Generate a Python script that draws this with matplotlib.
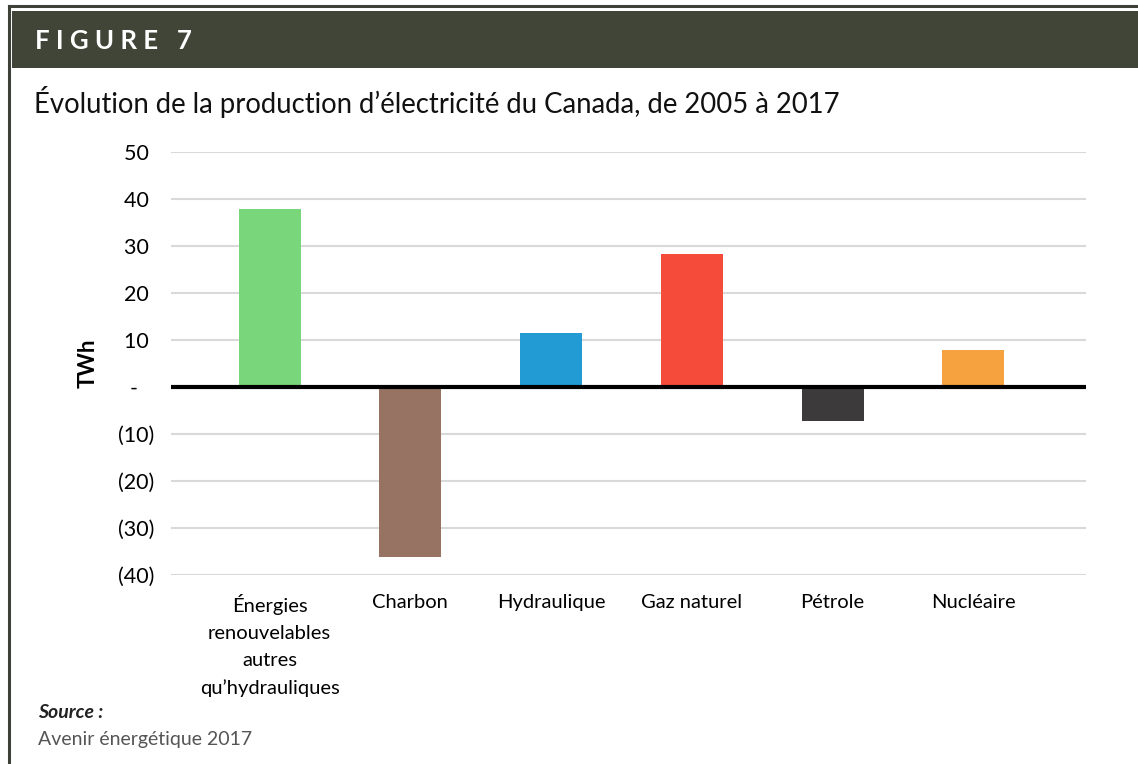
import matplotlib
matplotlib.use("Agg")
import matplotlib.pyplot as plt
from matplotlib.patches import Rectangle
from matplotlib.lines import Line2D

plt.rcParams['font.family'] = ['Lato', 'DejaVu Sans']

categories = ["Énergies\nrenouvelables\nautres\nqu’hydrauliques", "Charbon", "Hydraulique",
              "Gaz naturel", "Pétrole", "Nucléaire"]
values = [37.8, -36.2, 11.5, 28.4, -7.3, 7.9]
colors = ["#7ad67a", "#977363", "#229bd5", "#f44b3a", "#3c3a3b", "#f6a23f"]
yticks = [-40, -30, -20, -10, 0, 10, 20, 30, 40, 50]
ytick_labels = ["(40)", "(30)", "(20)", "(10)", "-   ", "10 ", "20 ", "30 ", "40 ", "50 "]

fig = plt.figure(figsize=(11.38, 7.64), dpi=100)

# frame and header band
W, H = 1138, 764
def px(x, y, w, h):
    return (x / W, 1 - (y + h) / H), w / W, h / H

fig.add_artist(Line2D([9 / W, 9 / W], [0, 1 - 6 / H], color="#3d4137", lw=2.2))
fig.add_artist(Line2D([9 / W, 1], [1 - 6 / H, 1 - 6 / H], color="#3d4137", lw=2.2))
xy, w, h = px(12, 11, 1126, 57)
fig.add_artist(Rectangle(xy, w, h, color="#404538", lw=0))
fig.text(35 / W, 1 - 41 / H, "F I G U R E   7", color="white", fontsize=18.5,
         fontweight="bold", va="center", ha="left")
fig.text(34 / W, 1 - 102 / H, "Évolution de la production d’électricité du Canada, de 2005 à 2017",
         fontsize=19.8, va="center", ha="left", color="#111111")
fig.text(38 / W, 1 - 713 / H, "Source :", fontsize=14, style="italic", fontweight="bold",
         va="center", ha="left", color="#222222")
fig.text(38 / W, 1 - 740 / H, "Avenir énergétique 2017", fontsize=14, va="center",
         ha="left", color="#555555")

ax = fig.add_axes([171 / W, 1 - 575 / H, (1086 - 171) / W, (575 - 152) / H])
x = list(range(len(categories)))
ax.bar(x, values, width=0.44, color=colors, zorder=3)
ax.set_xlim(-0.70, 5.80)
ax.set_ylim(-40, 50)
ax.set_yticks(yticks)
ax.set_yticklabels(ytick_labels, fontsize=15.5)
ax.yaxis.grid(True, color="#d9d9d9", lw=1.5, zorder=0)
ax.axhline(0, color="black", lw=3, zorder=4)
ax.set_xticks(x)
ax.set_xticklabels(categories, fontsize=14.5, linespacing=1.7, va="top")
ax.tick_params(axis="both", length=0)
ax.tick_params(axis="y", pad=12)
ax.tick_params(axis="x", pad=14)
for s in ax.spines.values():
    s.set_visible(False)
ax.set_ylabel("TWh", fontsize=16, fontweight="bold", labelpad=14)

fig.savefig("out.png", dpi=100)
